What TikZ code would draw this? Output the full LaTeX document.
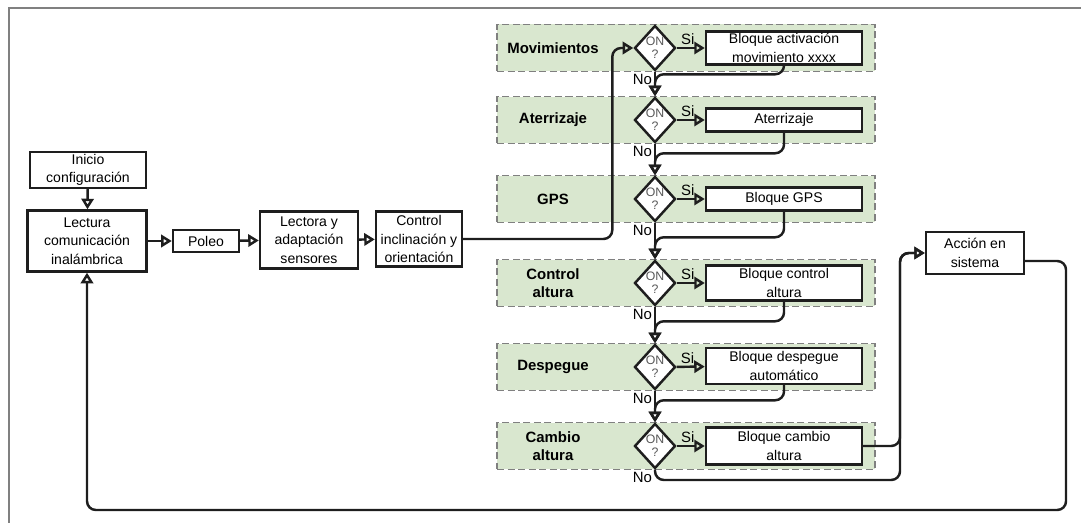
\documentclass[tikz,border=0pt]{standalone}
\usepackage{fontspec}
\setmainfont{Liberation Sans}
\usetikzlibrary{arrows.meta,shapes.geometric,positioning,calc}
\definecolor{bandgreen}{RGB}{217,231,207}
\definecolor{linegray}{RGB}{30,30,30}

\tikzset{
	block/.style={draw=linegray, line width=1.4pt, fill=white, align=center, inner sep=1pt, font=\fontsize{8}{10.5}\selectfont},
	band/.style={draw=gray, dash pattern=on 4pt off 2pt, line width=1pt, fill=bandgreen, minimum width=7.56cm, minimum height=0.94cm},
	check/.style={diamond, draw=linegray, line width=1.4pt, fill=white, inner sep=0pt, minimum width=0.82cm, minimum height=0.9cm, align=center, text=gray!70!black, font=\fontsize{7}{7.5}\selectfont},
	flow/.style={draw=linegray, line width=1.4pt, rounded corners=5pt, -{Triangle[open,length=6pt,width=7pt]}},
	tag/.style={inner sep=1pt, font=\fontsize{8.5}{9}\selectfont},
	group/.style={align=center, font=\bfseries\fontsize{8.5}{10.5}\selectfont},
}

\begin{document}
\begin{tikzpicture}[x=0.02cm, y=-0.02cm]
	\useasboundingbox (0,0) rectangle (1081,523);
	\draw[gray, line width=0.8pt] (9,523) -- (9,8) -- (1081,8);
	
	% main chain
	\node[block, minimum width=2.32cm, minimum height=0.72cm] (inicio) at (88,170) {Inicio\\configuración};
	\node[block, minimum width=2.38cm, minimum height=1.22cm] (lectura) at (87,241) {Lectura\\comunicación\\inalámbrica};
	\node[block, minimum width=1.32cm, minimum height=0.44cm] (poleo) at (206,241) {Poleo};
	\node[block, minimum width=1.96cm, minimum height=1.14cm] (lectora) at (309,240) {Lectora y\\adaptación\\sensores};
	\node[block, minimum width=1.72cm, minimum height=1.1cm] (control) at (419,239) {Control\\inclinación y\\orientación};
	\node[block, minimum width=1.96cm, minimum height=0.84cm] (accion) at (975,253) {Acción en\\sistema};
	
	% bands
	\node[band] (bandmov) at (686,48) {};
	\node[band] (bandater) at (686,120) {};
	\node[band] (bandgps) at (686,199) {};
	\node[band] (bandalt) at (686,283) {};
	\node[band] (banddesp) at (686,367) {};
	\node[band] (bandcamb) at (686,446) {};
	
	\node[group] (gmov) at (553,48) {Movimientos};
	\node[group] (gater) at (553,120) {Aterrizaje};
	\node[group] (ggps) at (553,199) {GPS};
	\node[group] (galt) at (553,283) {Control\\altura};
	\node[group] (gdesp) at (553,367) {Despegue};
	\node[group] (gcamb) at (553,446) {Cambio\\altura};
	
	% checks
	\node[check] (dmov) at (655,48) {ON\\?};
	\node[check] (dater) at (655,120) {ON\\?};
	\node[check] (dgps) at (655,199) {ON\\?};
	\node[check] (dalt) at (655,283) {ON\\?};
	\node[check] (ddesp) at (655,367) {ON\\?};
	\node[check] (dcamb) at (655,446) {ON\\?};
	
	\node[block, minimum width=3.12cm, minimum height=0.66cm] (bmov) at (784,48) {Bloque activación\\movimiento xxxx};
	\node[block, minimum width=3.12cm, minimum height=0.46cm] (bater) at (784,120) {Aterrizaje};
	\node[block, minimum width=3.12cm, minimum height=0.46cm] (bgps) at (784,199) {Bloque GPS};
	\node[block, minimum width=3.12cm, minimum height=0.7cm] (balt) at (784,283) {Bloque control\\altura};
	\node[block, minimum width=3.12cm, minimum height=0.72cm] (bdesp) at (784,366) {Bloque despegue\\automático};
	\node[block, minimum width=3.12cm, minimum height=0.74cm] (bcamb) at (784,446) {Bloque cambio\\altura};
	
	\coordinate (jn) at (900,480);
	\coordinate (ju) at (jn |- accion.west);
	\coordinate (retcorner) at (1066,510);
	
	\draw[flow] (inicio) -- (lectura);
	\draw[flow] (lectura) -- (poleo);
	\draw[flow] (poleo) -- (lectora);
	\draw[flow] (lectora) -- (control);
	\draw[flow] (control.east) -| ([xshift=-0.42cm]dmov.west) -- (dmov.west);
	
	\draw[flow] (dmov) -- node[tag, pos=0.05, anchor=south west] (simov) {Si} (bmov);
	\draw[flow] (dater) -- node[tag, pos=0.05, anchor=south west] (siater) {Si} (bater);
	\draw[flow] (dgps) -- node[tag, pos=0.05, anchor=south west] (sigps) {Si} (bgps);
	\draw[flow] (dalt) -- node[tag, pos=0.05, anchor=south west] (sialt) {Si} (balt);
	\draw[flow] (ddesp) -- node[tag, pos=0.05, anchor=south west] (sidesp) {Si} (bdesp);
	\draw[flow] (dcamb) -- node[tag, pos=0.05, anchor=south west] (sicamb) {Si} (bcamb);
	
	\draw[flow] (dmov.south) node[tag, anchor=north east] (nomov) {No} -- (dater.north);
	\draw[flow] (dater.south) node[tag, anchor=north east] (noater) {No} -- (dgps.north);
	\draw[flow] (dgps.south) node[tag, anchor=north east] (nogps) {No} -- (dalt.north);
	\draw[flow] (dalt.south) node[tag, anchor=north east] (noalt) {No} -- (ddesp.north);
	\draw[flow] (ddesp.south) node[tag, anchor=north east] (nodesp) {No} -- (dcamb.north);
	\draw[flow] (dcamb.south) node[tag, anchor=north east] (nocamb) {No} |- (jn) |- (accion.west);
	
	\draw[flow] (bmov.south) |- ([yshift=0.44cm]dater.north) -- (dater.north);
	\draw[flow] (bater.south) |- ([yshift=0.44cm]dgps.north) -- (dgps.north);
	\draw[flow] (bgps.south) |- ([yshift=0.44cm]dalt.north) -- (dalt.north);
	\draw[flow] (balt.south) |- ([yshift=0.44cm]ddesp.north) -- (ddesp.north);
	\draw[flow] (bdesp.south) |- ([yshift=0.44cm]dcamb.north) -- (dcamb.north);
	\draw[flow] (bcamb.east) -| (ju) -- (accion.west);
	
	\draw[flow] ([yshift=-0.16cm]accion.east) -| (retcorner) -| (lectura.south);
\end{tikzpicture}
\end{document}
